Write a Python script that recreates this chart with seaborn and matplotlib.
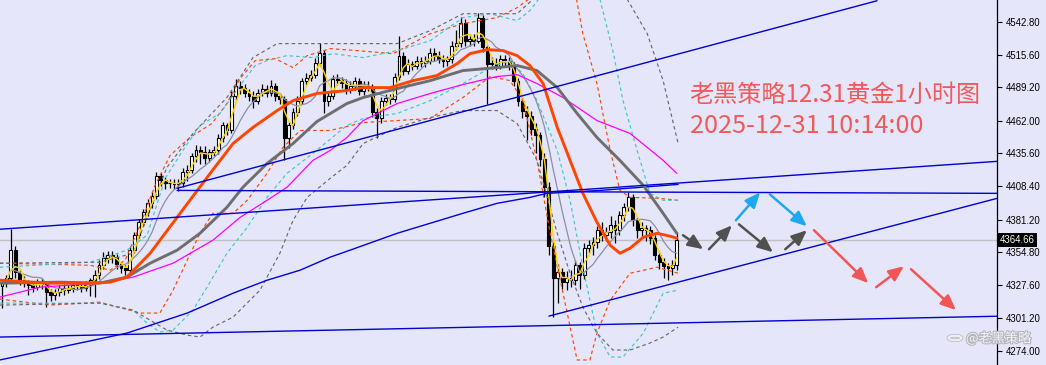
import numpy as np
import pandas as pd
import matplotlib
matplotlib.use("Agg")
import matplotlib.pyplot as plt
import matplotlib.transforms as mtransforms
from matplotlib import patheffects as pe
from matplotlib.patches import Circle
import seaborn as sns

# ---------------- hourly XAUUSD candles ----------------
opens = [4327.0, 4330.2, 4333.5, 4356.3, 4338.3, 4331.8, 4329.4, 4327.8, 4326.1, 4330.2,
         4328.6, 4322.1, 4319.6, 4322.1, 4325.3, 4323.7, 4325.3, 4327.8, 4327.0, 4325.3,
         4327.8, 4331.8, 4335.9, 4344.0, 4349.8, 4352.2, 4350.6, 4344.9, 4341.6, 4340.0,
         4356.3, 4368.5, 4379.1, 4387.2, 4394.6, 4400.2, 4416.6, 4413.3, 4410.8, 4411.5,
         4410.0, 4410.8, 4419.8, 4421.4, 4432.8, 4437.7, 4436.5, 4431.2, 4436.1, 4437.7,
         4447.5, 4458.1, 4454.0, 4482.5, 4490.7, 4489.0, 4485.0, 4482.5, 4478.4, 4485.0,
         4488.2, 4485.0, 4490.7, 4482.5, 4480.1, 4447.5, 4458.1, 4468.7, 4478.4, 4494.7,
         4497.2, 4499.6, 4509.4, 4517.5, 4478.4, 4482.5, 4496.4, 4495.0, 4493.1, 4488.2,
         4490.7, 4494.7, 4486.6, 4490.7, 4489.9, 4468.7, 4463.8, 4478.4, 4480.9, 4480.1,
         4498.0, 4515.1, 4502.9, 4508.6, 4507.0, 4511.0, 4509.4, 4511.0, 4517.5, 4515.1,
         4512.7, 4511.0, 4512.0, 4523.2, 4525.7, 4542.0, 4527.3, 4528.9, 4527.3, 4546.0,
         4522.0, 4508.0, 4509.4, 4507.0, 4512.7, 4511.0, 4507.0, 4494.7, 4478.4, 4470.3,
         4466.2, 4455.6, 4450.0, 4431.0, 4408.0, 4360.0, 4333.5, 4338.3, 4330.2, 4333.5,
         4331.8, 4344.0, 4335.9, 4357.9, 4360.3, 4362.8, 4372.6, 4368.5, 4370.9, 4376.6,
         4372.6, 4384.8, 4391.3, 4399.5, 4380.7, 4372.6, 4374.2, 4372.6, 4366.1, 4352.2,
         4346.6, 4343.3, 4341.6, 4344.0]
highs = [4333, 4336, 4374, 4360, 4341, 4335, 4332, 4331, 4333, 4334,
         4331, 4325, 4325, 4328, 4329, 4328, 4330, 4331, 4330, 4331,
         4334, 4340, 4348, 4355, 4356, 4356, 4353, 4347, 4344, 4359,
         4371, 4382, 4390, 4398, 4404, 4420, 4419, 4416, 4414, 4414,
         4414, 4423, 4426, 4436, 4442, 4441, 4441, 4439, 4441, 4451,
         4461, 4460, 4486, 4496, 4494, 4492, 4488, 4486, 4488, 4492,
         4491, 4495, 4493, 4485, 4482, 4461, 4472, 4482, 4497, 4501,
         4503, 4513, 4525, 4520, 4486, 4499, 4500, 4498, 4496, 4494,
         4498, 4497, 4494, 4494, 4492, 4472, 4481, 4484, 4484, 4501,
         4531, 4518, 4512, 4511, 4515, 4514, 4515, 4521, 4521, 4519,
         4516, 4515, 4527, 4536, 4547, 4545, 4533, 4533, 4550, 4548,
         4524, 4514, 4513, 4516, 4516, 4514, 4510, 4497, 4482, 4474,
         4470, 4460, 4453, 4436, 4412, 4363, 4345, 4342, 4339, 4340,
         4348, 4347, 4362, 4365, 4367, 4376, 4379, 4375, 4384, 4381,
         4388, 4395, 4404, 4402, 4383, 4379, 4377, 4376, 4369, 4356,
         4350, 4346, 4348, 4371]
lows = [4309, 4326, 4331, 4334, 4328, 4326, 4320, 4322, 4324, 4325,
        4310, 4315, 4316, 4319, 4320, 4321, 4322, 4324, 4322, 4323,
        4319, 4318, 4333, 4341, 4346, 4346, 4341, 4338, 4336, 4338,
        4354, 4366, 4376, 4384, 4391, 4398, 4409, 4406, 4407, 4406,
        4405, 4408, 4413, 4419, 4428, 4427, 4427, 4428, 4433, 4435,
        4445, 4450, 4452, 4479, 4484, 4481, 4478, 4472, 4476, 4482,
        4481, 4482, 4478, 4476, 4430, 4440, 4455, 4466, 4476, 4491,
        4494, 4497, 4507, 4468, 4474, 4480, 4491, 4489, 4484, 4485,
        4487, 4483, 4483, 4486, 4465, 4448, 4460, 4475, 4476, 4477,
        4495, 4499, 4500, 4503, 4504, 4506, 4506, 4508, 4511, 4509,
        4506, 4507, 4509, 4520, 4522, 4523, 4523, 4523, 4525, 4518,
        4476, 4504, 4503, 4504, 4506, 4503, 4490, 4474, 4464, 4446,
        4450, 4436, 4425, 4400, 4352, 4302, 4313, 4325, 4324, 4326,
        4328, 4325, 4333, 4354, 4352, 4358, 4364, 4364, 4366, 4362,
        4369, 4380, 4388, 4376, 4366, 4366, 4364, 4361, 4348, 4341,
        4334, 4332, 4336, 4340]
closes = [4330.2, 4333.5, 4356.3, 4338.3, 4331.8, 4329.4, 4327.8, 4326.1, 4330.2, 4328.6,
          4322.1, 4319.6, 4322.1, 4325.3, 4323.7, 4325.3, 4327.8, 4327.0, 4325.3, 4327.8,
          4331.8, 4335.9, 4344.0, 4349.8, 4352.2, 4350.6, 4344.9, 4341.6, 4340.0, 4356.3,
          4368.5, 4379.1, 4387.2, 4394.6, 4400.2, 4416.6, 4413.3, 4410.8, 4411.5, 4410.0,
          4410.8, 4419.8, 4421.4, 4432.8, 4437.7, 4436.5, 4431.2, 4436.1, 4437.7, 4447.5,
          4458.1, 4454.0, 4482.5, 4490.7, 4489.0, 4485.0, 4482.5, 4478.4, 4485.0, 4488.2,
          4485.0, 4490.7, 4482.5, 4480.1, 4447.5, 4458.1, 4468.7, 4478.4, 4494.7, 4497.2,
          4499.6, 4509.4, 4517.5, 4478.4, 4482.5, 4496.4, 4495.0, 4493.1, 4488.2, 4490.7,
          4494.7, 4486.6, 4490.7, 4489.9, 4468.7, 4463.8, 4478.4, 4480.9, 4480.1, 4498.0,
          4515.1, 4502.9, 4508.6, 4507.0, 4511.0, 4509.4, 4511.0, 4517.5, 4515.1, 4512.7,
          4511.0, 4512.0, 4523.2, 4525.7, 4542.0, 4527.3, 4528.9, 4527.3, 4546.0, 4522.0,
          4508.0, 4509.4, 4507.0, 4512.7, 4511.0, 4507.0, 4494.7, 4478.4, 4470.3, 4466.2,
          4455.6, 4450.0, 4431.0, 4408.0, 4360.0, 4333.5, 4338.3, 4330.2, 4333.5, 4331.8,
          4344.0, 4335.9, 4357.9, 4360.3, 4362.8, 4372.6, 4368.5, 4370.9, 4376.6, 4372.6,
          4384.8, 4391.3, 4399.5, 4380.7, 4372.6, 4374.2, 4372.6, 4366.1, 4352.2, 4346.6,
          4343.3, 4341.6, 4344.0, 4364.66]
last_price = 4364.66

# ---------------- moving averages (bar index, price) ----------------
ma_orange_x = [-0.5, 10.9, 20.0, 24.5, 28.3, 33.6, 39.7, 46.5, 52.4, 56.9,
               62.4, 66.0, 71.4, 78.2, 81.9, 88.0, 93.2, 98.6, 103.2, 106.1,
               110.0, 113.6, 116.8, 119.7, 122.7, 125.9, 128.8, 131.7, 134.9, 137.9,
               140.1, 142.4, 145.4, 148.5, 151.5, 153.0]
ma_orange_y = [4331.8, 4329.4, 4329.4, 4330.2, 4334.3, 4353.8, 4383.1, 4415.7, 4443.4, 4456.5,
               4470.3, 4478.4, 4484.2, 4486.6, 4489.0, 4489.0, 4494.7, 4498.8, 4508.6, 4516.7,
               4520.0, 4519.2, 4515.1, 4507.0, 4492.3, 4456.5, 4429.6, 4402.7, 4379.1, 4360.3,
               4353.8, 4357.9, 4366.9, 4370.1, 4367.7, 4366.1]

ma_gray_x = [-0.5, 13.2, 22.2, 28.3, 33.6, 39.7, 44.9, 51.0, 54.6, 60.1,
             66.0, 71.4, 78.2, 81.9, 89.6, 97.1, 104.5, 112.2, 116.8, 121.3,
             125.9, 130.4, 134.9, 140.1, 145.4, 149.9, 153.0]
ma_gray_y = [4329.4, 4330.2, 4329.4, 4334.3, 4345.7, 4356.3, 4370.1, 4391.3, 4407.6, 4427.1,
             4443.4, 4461.3, 4476.0, 4480.9, 4488.2, 4494.7, 4502.9, 4505.3, 4507.0, 4502.9,
             4489.0, 4467.9, 4448.3, 4429.6, 4409.2, 4386.4, 4370.1]

ma_magenta_x = [-0.5, 8.6, 22.2, 29.7, 38.8, 47.8, 54.0, 60.1, 64.6, 70.5,
                74.4, 78.2, 81.9, 89.6, 97.1, 104.5, 112.2, 116.8, 121.3, 127.2,
                134.9, 142.4, 149.9, 153.0]
ma_magenta_y = [4318.0, 4326.1, 4329.4, 4334.3, 4345.7, 4364.4, 4383.1, 4397.0, 4407.6, 4429.6,
                4437.7, 4448.3, 4462.1, 4476.0, 4484.2, 4491.5, 4498.0, 4499.6, 4492.3, 4480.9,
                4462.1, 4451.6, 4429.6, 4419.0]

ma_blue_x = [-0.5, 28.3, 42.0, 52.4, 60.1, 67.6, 74.4, 78.9, 89.6, 104.5,
             112.2, 119.7, 123.6, 135.6, 144.7, 153.3]
ma_blue_y = [4266.7, 4288.6, 4305.0, 4321.2, 4331.8, 4340.0, 4350.6, 4356.3, 4370.1, 4386.4,
             4394.5, 4399.4, 4402.7, 4405.1, 4407.6, 4410.0]

# ---------------- envelope bands ----------------
band_orange_up_x = [-0.5, 20.0, 24.5, 27.9, 31.3, 34.7, 38.1, 42.6, 47.6, 51.0,
                    54.0, 57.4, 61.9, 66.0, 69.2, 74.4, 80.5, 88.7, 97.1, 104.5,
                    112.2, 116.8, 122.0, 129.9, 131.7, 134.9, 137.9, 140.1, 142.4, 149.2,
                    153.3]
band_orange_up_y = [4345.7, 4344.0, 4340.0, 4348.1, 4376.6, 4409.2, 4433.6, 4448.3, 4459.7, 4476.0,
                    4496.4, 4511.0, 4512.7, 4505.3, 4515.1, 4520.8, 4519.2, 4516.7, 4533.0, 4541.2,
                    4546.1, 4554.2, 4568.0, 4568.0, 4533.0, 4492.3, 4437.7, 4405.1, 4399.4, 4398.6,
                    4397.0]
band_orange_lo_x = [-0.5, 10.9, 22.2, 31.3, 35.8, 38.8, 42.0, 44.9, 47.8, 52.4,
                    55.6, 60.1, 63.7, 67.6, 74.4, 81.9, 89.6, 97.1, 104.5, 110.7,
                    115.2, 118.1, 121.3, 124.3, 127.2, 130.4, 133.3, 134.9, 137.9, 142.4,
                    148.5, 153.3]
band_orange_lo_y = [4316.4, 4311.5, 4313.9, 4305.0, 4305.0, 4323.7, 4348.1, 4370.1, 4386.4, 4386.4,
                    4397.0, 4419.0, 4440.2, 4454.0, 4454.0, 4460.5, 4462.1, 4463.8, 4480.9, 4498.0,
                    4494.7, 4478.4, 4429.6, 4370.1, 4321.2, 4266.7, 4266.7, 4288.6, 4315.5, 4337.5,
                    4342.4, 4337.5]

band_cyan_up_x = [-0.5, 20.0, 28.3, 32.9, 37.0, 41.0, 44.9, 49.4, 54.0, 57.4,
                  60.1, 64.6, 70.5, 75.1, 81.9, 89.6, 97.1, 104.5, 110.7, 116.8,
                  119.7, 123.1, 135.1, 138.5, 140.8, 144.0, 146.9, 149.9, 153.3]
band_cyan_up_y = [4342.4, 4346.5, 4356.3, 4368.5, 4414.9, 4437.7, 4458.1, 4467.9, 4490.7, 4507.0,
                  4511.0, 4515.1, 4513.5, 4516.7, 4513.5, 4519.2, 4527.3, 4546.1, 4549.3, 4543.6,
                  4551.8, 4568.0, 4568.0, 4519.2, 4478.4, 4437.7, 4402.7, 4397.0, 4397.0]
band_cyan_lo_x = [-0.5, 22.2, 29.7, 32.9, 35.8, 38.8, 43.3, 46.5, 51.0, 55.6,
                  60.1, 64.6, 70.5, 78.2, 81.9, 89.6, 97.1, 104.5, 110.7, 115.2,
                  118.1, 121.3, 125.9, 128.8, 131.7, 134.9, 137.9, 140.8, 145.4, 149.9,
                  153.3]
band_cyan_lo_y = [4313.1, 4313.1, 4307.4, 4296.8, 4289.5, 4291.1, 4307.4, 4326.1, 4353.8, 4375.0,
                  4399.4, 4419.0, 4435.3, 4458.1, 4463.8, 4467.9, 4478.4, 4492.3, 4505.3, 4511.0,
                  4500.4, 4478.4, 4437.7, 4397.0, 4342.4, 4288.6, 4269.1, 4269.1, 4288.6, 4321.2,
                  4323.7]

band_gray_up_x = [-0.5, 22.2, 29.7, 37.4, 43.3, 51.0, 56.9, 62.4, 75.1, 89.6,
                  97.1, 104.5, 116.8, 121.3, 141.3, 146.3, 149.9, 153.3]
band_gray_up_y = [4345.7, 4346.5, 4353.8, 4423.9, 4451.6, 4480.9, 4513.5, 4524.9, 4524.9, 4524.9,
                  4535.5, 4549.3, 4549.3, 4564.0, 4564.0, 4533.0, 4494.7, 4443.4]
band_gray_lo_x = [-0.5, 22.2, 29.7, 37.4, 42.0, 44.9, 47.8, 52.4, 58.5, 63.0,
                  66.0, 69.2, 74.4, 78.2, 81.9, 89.6, 97.1, 104.5, 112.2, 116.8,
                  121.3, 125.9, 128.8, 131.7, 134.9, 138.5, 142.4, 146.9, 149.9, 153.3]
band_gray_lo_y = [4311.5, 4313.1, 4307.4, 4291.1, 4287.0, 4285.4, 4293.5, 4301.7, 4323.7, 4353.8,
                  4380.7, 4399.4, 4414.9, 4425.5, 4443.4, 4456.5, 4464.6, 4470.3, 4470.3, 4459.7,
                  4429.6, 4370.1, 4337.5, 4309.8, 4288.6, 4274.8, 4274.8, 4280.5, 4285.4, 4293.5]

# ---------------- hand-drawn trend lines ----------------
trend_x0 = [39.7, 39.7, -0.5, -0.5, 124.0]
trend_y0 = [4406.8, 4405.1, 4373.4, 4285.4, 4302.5]
trend_x1 = [198.4, 225.6, 225.6, 225.6, 225.6]
trend_y1 = [4559.9, 4402.7, 4428.8, 4302.4, 4398.6]

# ---------------- projected path arrows ----------------
arrow_x0 = [154.4, 160.3, 167.1, 177.6, 166.4, 174.1, 184.1, 198.2, 206.1]
arrow_y0 = [4368.5, 4357.1, 4377.4, 4357.1, 4380.7, 4401.9, 4372.6, 4326.1, 4340.8]
arrow_x1 = [159.0, 165.5, 174.8, 182.5, 171.9, 182.5, 196.4, 204.5, 216.3]
arrow_y1 = [4357.1, 4376.6, 4354.6, 4372.6, 4403.5, 4375.8, 4329.4, 4343.2, 4307.4]
arrow_colors = ["#505050"] * 4 + ["#1fa8f2"] * 2 + ["#f25555"] * 3

y_ticks = [4542.80, 4515.60, 4489.20, 4462.00, 4435.60, 4408.40,
           4381.20, 4354.80, 4327.60, 4301.20, 4274.00]

title_line1 = "老黑策略12.31黄金1小时图"
title_line2 = "2025-12-31 10:14:00"
watermark = "@老黑策略"

# ---------------- figure ----------------
BG = "#e6e6fa"
sns.set_theme(style="white", rc={"axes.facecolor": BG, "figure.facecolor": BG})
plt.rcParams["font.family"] = ["Liberation Sans", "DejaVu Sans"]

fig = plt.figure(figsize=(10.46, 3.65), dpi=100)
ax = fig.add_axes([0, 0, 997 / 1046, 1])
ax.set_facecolor(BG)

bars = pd.DataFrame({"o": opens, "h": highs, "l": lows, "c": closes})
bars["i"] = np.arange(len(bars))
bars["bottom"] = bars[["o", "c"]].min(axis=1)
bars["body"] = (bars["c"] - bars["o"]).abs().clip(lower=0.6)
bars["fill"] = np.where(bars["c"] >= bars["o"], "white", "black")

# short averages of the closes
bars["sma_fast"] = bars["c"].rolling(3, min_periods=1).mean()
bars["sma_mid"] = bars["c"].rolling(8, min_periods=1).mean()

# current price line
ax.axhline(last_price, color="#c0c0c0", lw=1.0, zorder=1)

# candles
ax.vlines(bars["i"], bars["l"], bars["h"], color="black", lw=0.9, zorder=2)
ax.bar(bars["i"], bars["body"], bottom=bars["bottom"], width=0.64,
       color=bars["fill"], edgecolor="black", linewidth=0.8, zorder=3)

dash = (0, (3, 2.5))
for bx, by, col in [(band_orange_up_x, band_orange_up_y, "#ff4500"),
                    (band_orange_lo_x, band_orange_lo_y, "#ff4500"),
                    (band_cyan_up_x, band_cyan_up_y, "#3cc8c8"),
                    (band_cyan_lo_x, band_cyan_lo_y, "#3cc8c8"),
                    (band_gray_up_x, band_gray_up_y, "#6a6a6a"),
                    (band_gray_lo_x, band_gray_lo_y, "#6a6a6a")]:
    sns.lineplot(x=bx, y=by, ax=ax, color=col, lw=0.85, linestyle=dash,
                 sort=False, zorder=4)

sns.lineplot(data=bars, x="i", y="sma_mid", ax=ax, color="#8a8fa0", lw=0.9, zorder=5)
sns.lineplot(data=bars, x="i", y="sma_fast", ax=ax, color="#ffd700", lw=1.0, zorder=6)
sns.lineplot(x=ma_magenta_x, y=ma_magenta_y, ax=ax, color="#ff00ff", lw=0.9, zorder=6)
sns.lineplot(x=ma_blue_x, y=ma_blue_y, ax=ax, color="#0000e0", lw=1.0, zorder=6)
sns.lineplot(x=ma_gray_x, y=ma_gray_y, ax=ax, color="#6e6e6e", lw=2.1, zorder=7)
sns.lineplot(x=ma_orange_x, y=ma_orange_y, ax=ax, color="#ff4500", lw=2.1, zorder=8)

for x0, y0, x1, y1 in zip(trend_x0, trend_y0, trend_x1, trend_y1):
    sns.lineplot(x=[x0, x1], y=[y0, y1], ax=ax, color="#0000d0", lw=1.0, zorder=9)

for x0, y0, x1, y1, col in zip(arrow_x0, arrow_y0, arrow_x1, arrow_y1, arrow_colors):
    ax.annotate("", xy=(x1, y1), xytext=(x0, y0), zorder=10,
                arrowprops=dict(arrowstyle="-|>,head_length=0.7,head_width=0.3",
                                color=col, lw=1.8, shrinkA=0, shrinkB=0,
                                mutation_scale=13))

cjk = ["Noto Sans CJK SC", "DejaVu Sans"]
ax.text(689 / 997, 1 - 95 / 365, title_line1, transform=ax.transAxes, family=cjk,
        fontsize=17.4, color="#f05a5a", ha="left", va="center", zorder=11)
ax.text(690 / 997, 1 - 126 / 365, title_line2, transform=ax.transAxes, family=cjk,
        fontsize=18.2, color="#f05a5a", ha="left", va="center", zorder=11)

# axes and price scale
ax.set_xlim(-0.45, 225.6)
ax.set_ylim(4262.6, 4560.5)
ax.set_xticks([])
ax.set_xlabel("")
ax.set_ylabel("")
for side in ["left", "top", "bottom"]:
    ax.spines[side].set_visible(False)
ax.spines["right"].set_visible(True)
ax.spines["right"].set_color("black")
ax.spines["right"].set_linewidth(0.9)
ax.yaxis.tick_right()
ax.set_yticks(y_ticks)
ax.set_yticklabels([f"{v:.2f}" for v in y_ticks])
ax.tick_params(axis="y", which="major", right=True, direction="out", length=3.5,
               width=0.8, pad=2.5, labelsize=6.9, colors="black")
ax.grid(False)

tr = mtransforms.blended_transform_factory(ax.transAxes, ax.transData)
ax.text(1.0 + 3 / 997, last_price, f"{last_price:.2f}", transform=tr, fontsize=6.9,
        color="white", ha="left", va="center", zorder=12, clip_on=False,
        bbox=dict(facecolor="black", edgecolor="none", pad=1.4))

# account watermark
logo = Circle((955 / 1046, 1 - 338 / 365), 0.0062, transform=fig.transFigure,
              facecolor="none", edgecolor="#f4f4f8", lw=1.6, alpha=0.9,
              path_effects=[pe.withStroke(linewidth=2.6, foreground="#b0b0b8")])
fig.patches.append(logo)
fig.text(966 / 1046, 1 - 338 / 365, watermark, family=cjk, fontsize=9.5,
         color="#f6f6fa", ha="left", va="center", alpha=0.95,
         path_effects=[pe.withStroke(linewidth=1.6, foreground="#b4b4bc")])

fig.savefig("out.png", dpi=100, facecolor=BG)
